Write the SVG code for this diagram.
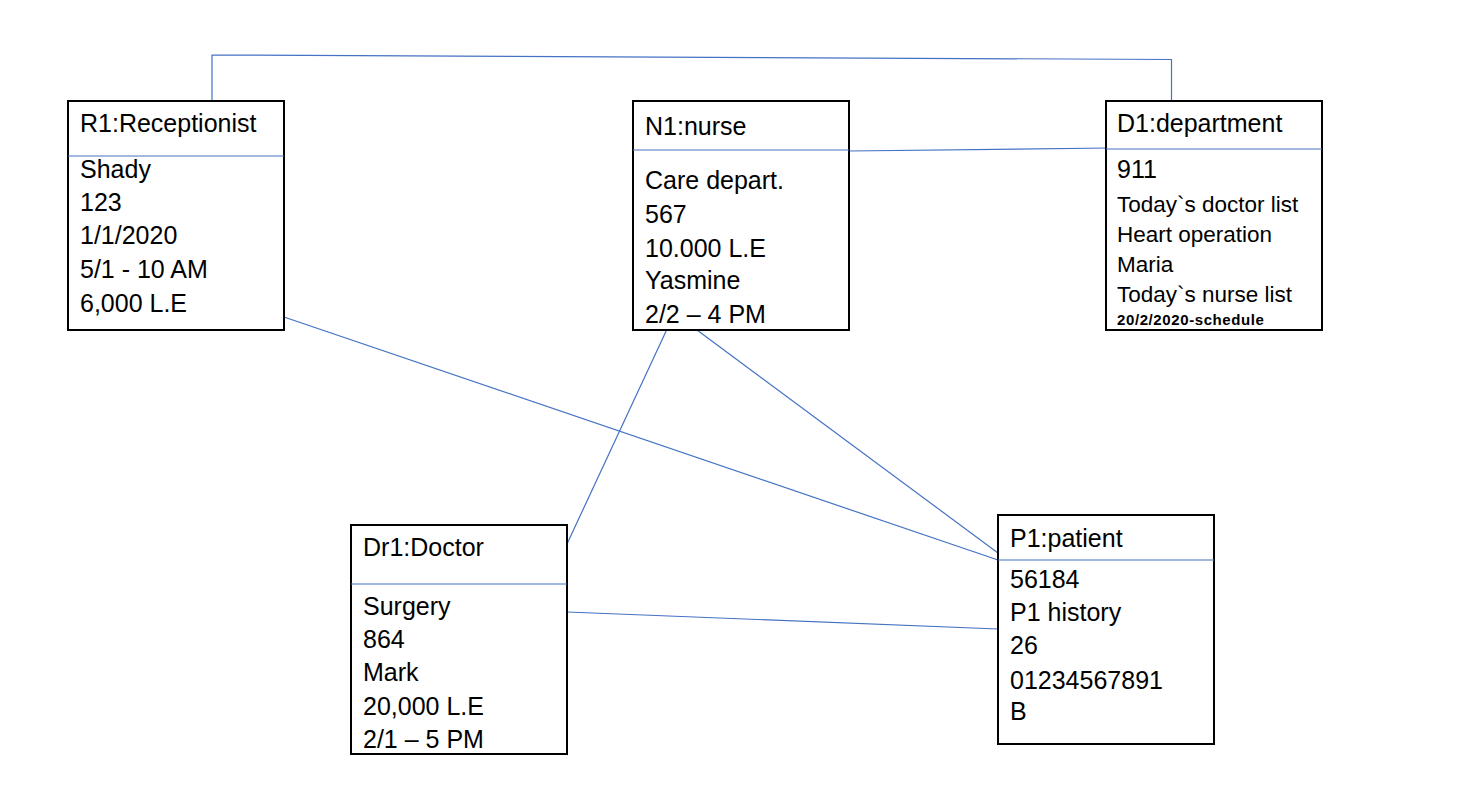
<svg xmlns="http://www.w3.org/2000/svg" width="1458" height="807" viewBox="0 0 1458 807">
<style>
.box{fill:#fff;stroke:#000;stroke-width:2}
.div{stroke:#4472C4;stroke-width:1.2;fill:none}
.con{stroke:#4472C4;stroke-width:1.2;fill:none}
text{font-family:"Liberation Sans",Arial,sans-serif;font-size:25px;fill:#000}
.sm{font-size:22.5px}
.tiny{font-size:15px;font-weight:bold;letter-spacing:0.6px}
</style>
<rect width="1458" height="807" fill="#fff"/>
<g id="connectors">
<polyline class="con" points="212,101 212,55 1171.5,59.5 1171.5,101"/>
<line class="con" x1="849" y1="151" x2="1110" y2="148"/>
<line class="con" x1="284" y1="317" x2="998" y2="560"/>
<line class="con" x1="668" y1="327" x2="567" y2="544"/>
<line class="con" x1="697" y1="330" x2="998" y2="553"/>
<line class="con" x1="567" y1="612" x2="998" y2="629"/>
</g>
<g id="R1">
<rect class="box" x="68" y="101" width="216" height="229"/>
<line class="div" x1="68" y1="156" x2="284" y2="156"/>
<text x="80" y="132">R1:Receptionist</text>
<text x="80" y="178">Shady</text>
<text x="80" y="211">123</text>
<text x="80" y="244">1/1/2020</text>
<text x="80" y="278">5/1 - 10 AM</text>
<text x="80" y="312">6,000 L.E</text>
</g>
<g id="N1">
<rect class="box" x="633" y="101" width="216" height="229"/>
<line class="div" x1="633" y1="150" x2="849" y2="150"/>
<text x="645" y="135">N1:nurse</text>
<text x="645" y="189">Care depart.</text>
<text x="645" y="223">567</text>
<text x="645" y="257">10.000 L.E</text>
<text x="645" y="289">Yasmine</text>
<text x="645" y="323">2/2 – 4 PM</text>
</g>
<g id="D1">
<rect class="box" x="1106" y="101" width="216" height="229"/>
<line class="div" x1="1106" y1="149" x2="1322" y2="149"/>
<text x="1117" y="132">D1:department</text>
<text x="1117" y="178">911</text>
<text class="sm" x="1117" y="212">Today`s doctor list</text>
<text class="sm" x="1117" y="242">Heart operation</text>
<text class="sm" x="1117" y="272">Maria</text>
<text class="sm" x="1117" y="302">Today`s nurse list</text>
<text class="tiny" x="1117" y="325">20/2/2020-schedule</text>
</g>
<g id="Dr1">
<rect class="box" x="351" y="525" width="216" height="229"/>
<line class="div" x1="351" y1="584" x2="567" y2="584"/>
<text x="363" y="556">Dr1:Doctor</text>
<text x="363" y="615">Surgery</text>
<text x="363" y="648">864</text>
<text x="363" y="681">Mark</text>
<text x="363" y="715">20,000 L.E</text>
<text x="363" y="748">2/1 – 5 PM</text>
</g>
<g id="P1">
<rect class="box" x="998" y="515" width="216" height="229"/>
<line class="div" x1="998" y1="560" x2="1214" y2="560"/>
<text x="1010" y="547">P1:patient</text>
<text x="1010" y="588">56184</text>
<text x="1010" y="621">P1 history</text>
<text x="1010" y="654">26</text>
<text x="1010" y="689">01234567891</text>
<text x="1010" y="720">B</text>
</g>
</svg>
